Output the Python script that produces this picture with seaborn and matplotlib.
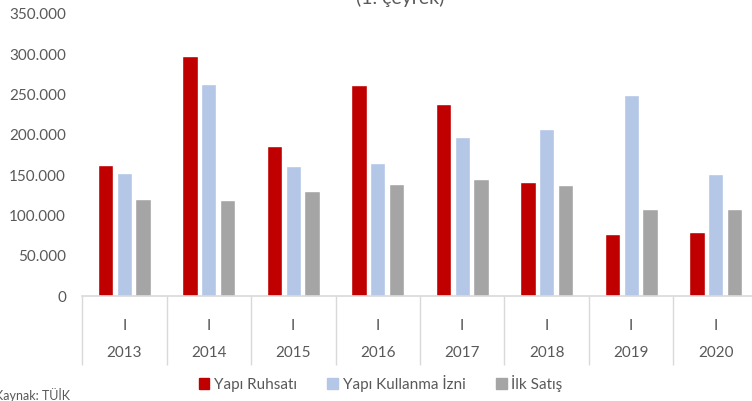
import numpy as np
import pandas as pd
import matplotlib.pyplot as plt
import seaborn as sns
from matplotlib.ticker import FuncFormatter, FixedLocator

# Data (1st quarter of each year)
years = ["2013", "2014", "2015", "2016", "2017", "2018", "2019", "2020"]
quarter = "I"
series_names = ["Yapı Ruhsatı", "Yapı Kullanma İzni", "İlk Satış"]
yapi_ruhsati = [162500, 297800, 186100, 261800, 238200, 141000, 76900, 79400]
yapi_kullanma = [153000, 263000, 160900, 164600, 196900, 207200, 249800, 151400]
ilk_satis = [120700, 119500, 130300, 139300, 144800, 138100, 107500, 107500]
colors = ["#C00000", "#B4C7E7", "#A5A5A5"]

df = pd.DataFrame({
    "Yıl": years * 3,
    "Seri": np.repeat(series_names, len(years)),
    "Değer": yapi_ruhsati + yapi_kullanma + ilk_satis,
})

sns.set_style("white")
plt.rcParams["font.family"] = ["Lato", "DejaVu Sans"]
text_grey = "#595959"
line_grey = "#D9D9D9"

fig = plt.figure(figsize=(7.52, 4.01), dpi=100)
ax = fig.add_axes([82 / 752, 1 - 296 / 401, 8 * 84.5 / 752, 282 / 401])

sns.barplot(data=df, x="Yıl", y="Değer", hue="Seri", hue_order=series_names,
            palette=colors, width=0.667, gap=0.19, ax=ax, legend=False,
            saturation=1)

ax.set_ylim(0, 350000)
ax.set_xlim(-0.5, 7.5)
ax.set_yticks(np.arange(0, 350001, 50000))
ax.yaxis.set_major_formatter(FuncFormatter(lambda v, p: f"{int(v):,}".replace(",", ".")))
ax.tick_params(axis="y", length=0, pad=11.5, labelsize=11, labelcolor=text_grey)
ax.set_xlabel("")
ax.set_ylabel("")

# two-level category axis: quarter label then year, with separators
ax.set_xticks(range(len(years)))
ax.set_xticklabels([quarter] * len(years))
ax.tick_params(axis="x", which="major", bottom=True, length=0, pad=16.5,
               labelsize=11, labelcolor=text_grey)
ax.xaxis.set_minor_locator(FixedLocator(np.arange(-0.5, len(years), 1.0)))
ax.tick_params(axis="x", which="minor", bottom=True, length=49.7, width=1,
               color=line_grey, direction="out")
for i, yr in enumerate(years):
    ax.annotate(yr, xy=(i, 0), xycoords=("data", "axes fraction"),
                xytext=(0, -57 * 0.72), textcoords="offset points",
                ha="center", va="center", fontsize=11, color=text_grey)

for side in ["left", "right", "top"]:
    ax.spines[side].set_visible(False)
ax.spines["bottom"].set_color(line_grey)
ax.spines["bottom"].set_linewidth(1.2)

handles = [plt.Rectangle((0, 0), 1, 1, color=c) for c in colors]
fig.legend(handles, series_names, loc="center", bbox_to_anchor=(0.506, 1 - 383 / 401),
           ncol=3, frameon=False, handlelength=0.7, handleheight=0.7,
           handletextpad=0.3, columnspacing=2.0, fontsize=11, labelcolor=text_grey)

# title and source note sit partly outside the frame, as in the reference crop
fig.text(400 / 752, 1.005, "(1. çeyrek)", ha="center", va="center",
         fontsize=14, color=text_grey)
fig.text(-5 / 752, 1 - 395 / 401, "Kaynak: TÜİK", ha="left", va="center",
         fontsize=9, color=text_grey)

fig.savefig("out.png", dpi=100)
